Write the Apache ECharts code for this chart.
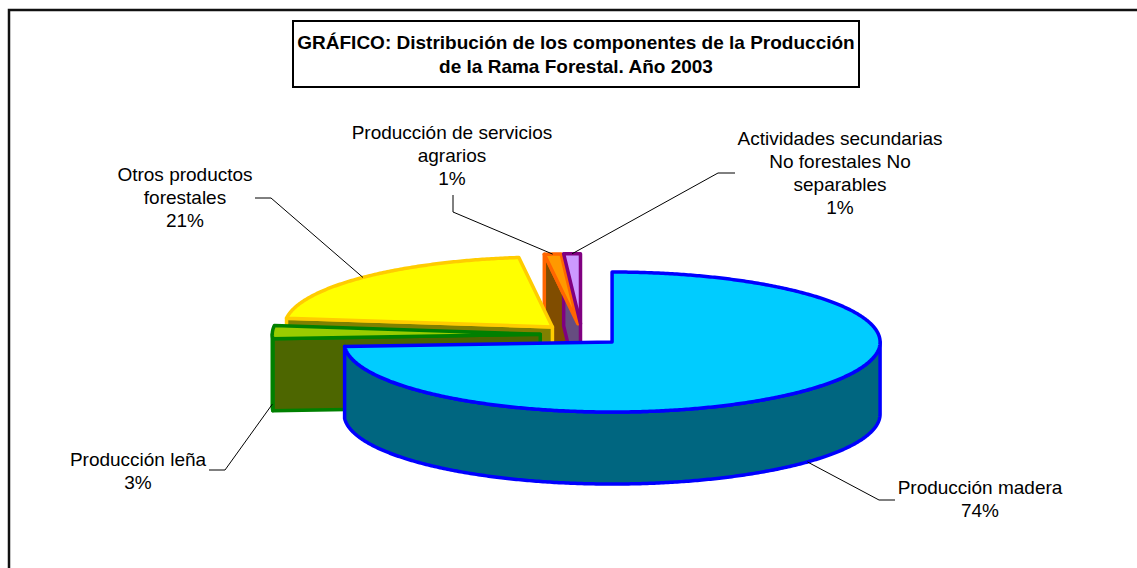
<!DOCTYPE html>
<html>
<head>
<meta charset="utf-8">
<script src="https://cdn.jsdelivr.net/npm/echarts@6/dist/echarts.min.js"></script>
<style>
  html, body { margin: 0; padding: 0; background: #ffffff; }
  #chart { width: 1137px; height: 568px; }
</style>
</head>
<body>
<div id="chart"></div>
<script>
// Components of forestry production, 2003 (shares of total, %)
const categories = [
  'Producción madera',
  'Producción leña',
  'Otros productos forestales',
  'Producción de servicios agrarios',
  'Actividades secundarias No forestales No separables'
];
const shares = [74, 3, 21, 1, 1];

// Category names as they are wrapped in the slice labels
const labelLines = [
  ['Producción madera'],
  ['Producción leña'],
  ['Otros productos', 'forestales'],
  ['Producción de servicios', 'agrarios'],
  ['Actividades secundarias', 'No forestales No', 'separables']
];

const titleText = 'GRÁFICO: Distribución de los componentes de la Producción\nde la Rama Forestal. Año 2003';

// Slice colours: top face, side walls, outline
const topColors  = ['#00CCFF', '#99CC00', '#FFFF00', '#FF9900', '#CC99FF'];
const sideColors = ['#006680', '#4D6600', '#808000', '#804D00', '#664D80'];
const edgeColors = ['#0000FF', '#008000', '#FFCC00', '#FF6600', '#800080'];

// Placement of each label block and its leader elbow (text side first)
const labelLayout = [
  { x: 980, y: 476, lead: [[895, 500], [879, 500]], anchor: 'bottom' },
  { x: 138, y: 448, lead: [[209, 470], [225, 470]], anchor: 'bottom' },
  { x: 185, y: 163, lead: [[255, 198], [271, 198]], anchor: 'top' },
  { x: 452, y: 121, lead: [[453, 195], [453, 212]], anchor: 'top' },
  { x: 840, y: 127, lead: [[735, 173], [718, 173]], anchor: 'top' }
];

// Tilted pie: centre, ellipse radii, wall depth, explosion fraction
const PIE = { cx: 581.8, cy: 334.6, rx: 268, ry: 70, depth: 72, explode: 0.155 };
const FONT = '"Liberation Sans", Arial, Helvetica, sans-serif';

const rad = d => d * Math.PI / 180;

function renderSlice(params, api) {
  const i = params.dataIndex;
  const total = shares.reduce((a, b) => a + b, 0);
  let before = 0;
  for (let k = 0; k < i; k++) before += shares[k];
  const value = api.value(0);
  // angles measured clockwise from 12 o'clock
  const a0 = before / total * 360;
  const a1 = (before + value) / total * 360;
  const mid = (a0 + a1) / 2;

  const ox = PIE.cx + PIE.explode * PIE.rx * Math.sin(rad(mid));
  const oy = PIE.cy - PIE.explode * PIE.ry * Math.cos(rad(mid));
  const h = PIE.depth;
  const rim = (a, dz) => [ox + PIE.rx * Math.sin(rad(a)), oy - PIE.ry * Math.cos(rad(a)) + dz];
  const arc = (from, to, dz) => {
    const pts = [];
    const n = Math.max(2, Math.ceil(Math.abs(to - from) * 2));
    for (let s = 0; s <= n; s++) pts.push(rim(from + (to - from) * s / n, dz));
    return pts;
  };

  // back slices first, front slices last
  const base = Math.round((1 - Math.cos(rad(mid))) * 100) * 10;
  const faceStyle = (fill) => ({
    fill: fill, stroke: edgeColors[i], lineWidth: 3.5, lineJoin: 'round'
  });

  const children = [];
  // radial cut faces that turn towards the viewer
  if (Math.sin(rad(a0)) < -1e-6) {
    children.push({
      type: 'polygon', z2: base + 1,
      shape: { points: [[ox, oy], rim(a0, 0), rim(a0, h), [ox, oy + h]] },
      style: faceStyle(sideColors[i])
    });
  }
  if (Math.sin(rad(a1)) > 1e-6) {
    children.push({
      type: 'polygon', z2: base + 1,
      shape: { points: [[ox, oy], rim(a1, 0), rim(a1, h), [ox, oy + h]] },
      style: faceStyle(sideColors[i])
    });
  }
  // outer wall on the front half
  const ws = Math.max(a0, 90), we = Math.min(a1, 270);
  if (we > ws) {
    children.push({
      type: 'polygon', z2: base + 2,
      shape: { points: arc(ws, we, 0).concat(arc(we, ws, h)) },
      style: faceStyle(sideColors[i])
    });
  }
  // top face
  children.push({
    type: 'polygon', z2: base + 3,
    shape: { points: [[ox, oy]].concat(arc(a0, a1, 0)) },
    style: faceStyle(topColors[i])
  });

  // label with leader line
  const lay = labelLayout[i];
  const tip = rim(mid, lay.anchor === 'bottom' ? h : 0);
  children.push({
    type: 'polyline', z2: 5000,
    shape: { points: [lay.lead[0], lay.lead[1], tip] },
    style: { stroke: '#000000', lineWidth: 1, fill: null }
  });
  const pct = Math.round(value / total * 100) + '%';
  children.push({
    type: 'text', z2: 5001,
    x: lay.x, y: lay.y,
    style: {
      text: labelLines[i].concat([pct]).join('\n'),
      align: 'center', verticalAlign: 'top',
      fontFamily: FONT, fontSize: 19, lineHeight: 23, fill: '#000000'
    }
  });

  return { type: 'group', children: children };
}

const chart = echarts.init(document.getElementById('chart'), null, { renderer: 'svg' });
chart.setOption({
  animation: false,
  backgroundColor: '#ffffff',
  title: {
    text: titleText,
    left: 571, top: 21,
    padding: [9, 5],
    borderColor: '#000000', borderWidth: 2,
    backgroundColor: '#ffffff',
    textStyle: {
      fontFamily: FONT, fontSize: 19, fontWeight: 'bold',
      lineHeight: 24, color: '#000000'
    },
    textAlign: 'center'
  },
  graphic: [{
    type: 'rect', silent: true, z: -10,
    shape: { x: 9, y: 10, width: 1200, height: 620 },
    style: { fill: null, stroke: '#111111', lineWidth: 2.5 }
  }],
  series: [{
    type: 'custom',
    coordinateSystem: 'none',
    renderItem: renderSlice,
    data: shares.map((v, k) => ({ name: categories[k], value: [v] }))
  }]
});
</script>
</body>
</html>
